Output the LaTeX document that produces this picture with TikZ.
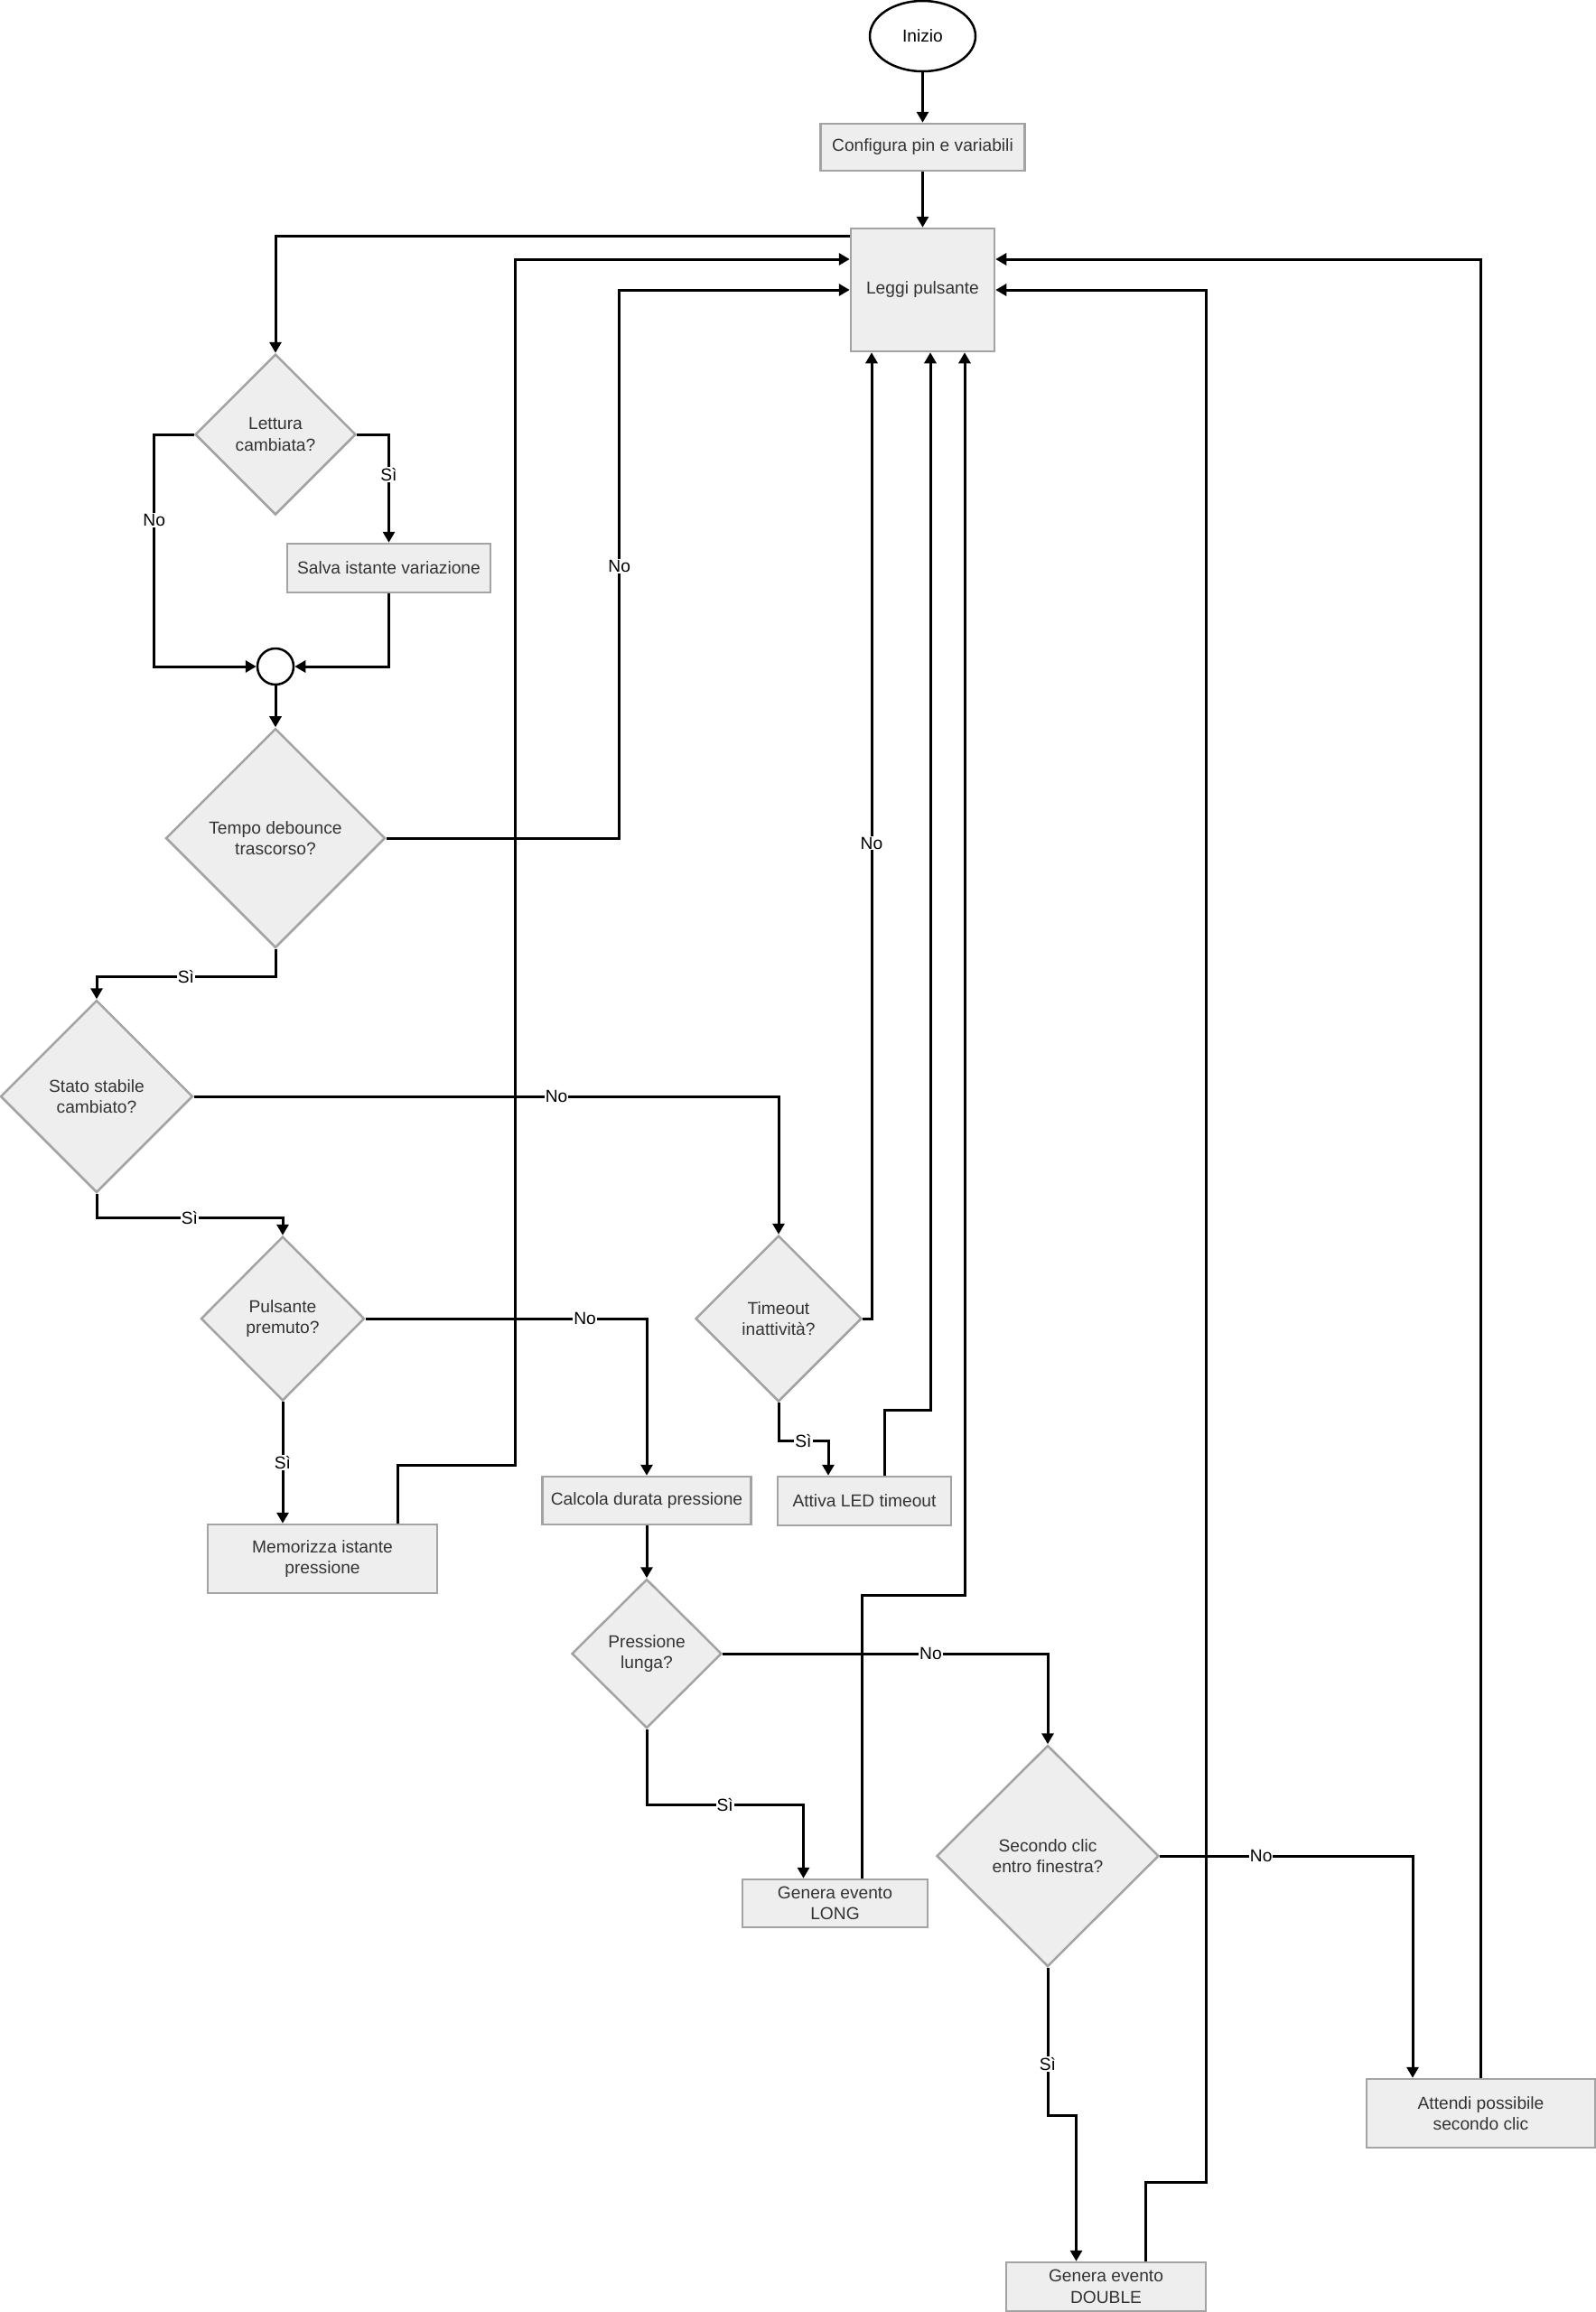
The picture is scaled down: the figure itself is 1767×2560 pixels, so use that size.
\documentclass[tikz,border=0pt]{standalone}
\usepackage{fontspec}
\setmainfont{Liberation Sans}
\usetikzlibrary{shapes.geometric,arrows.meta}
\definecolor{nodefill}{HTML}{EEEEEE}
\definecolor{nodeline}{HTML}{A3A3A3}
\definecolor{nodetext}{HTML}{333333}
\begin{document}
\begin{tikzpicture}[x=1pt,y=-1pt,
		font=\fontsize{19.2}{23.5}\selectfont,
		proc/.style={draw=nodeline, fill=nodefill, text=nodetext, line width=2.5pt, inner sep=0pt, align=center},
		dec/.style={diamond, draw=nodeline, fill=nodefill, text=nodetext, line width=2.5pt, inner sep=1pt, align=center},
		lab/.style={fill=white, inner sep=1pt, text=black},
		flow/.style={line width=3pt, -{Triangle[length=12pt,width=13pt]}}]
		\useasboundingbox (0,0) rectangle (1767,2560);
		\node[draw, ellipse, line width=2.5pt, minimum width=117pt, minimum height=78pt] (ini) at (1021.5,40) {Inizio};
		\node[proc, minimum width=226pt, minimum height=52pt] (conf) at (1021.5,163) {Configura pin e variabili};
		\node[proc, minimum width=159pt, minimum height=136pt] (leggi) at (1021.5,321) {Leggi pulsante};
		\node[dec, minimum width=178pt, minimum height=178pt] (lett) at (305,481) {Lettura\\cambiata?};
		\node[proc, minimum width=225pt, minimum height=54pt] (salva) at (430.5,629) {Salva istante variazione};
		\node[draw, circle, line width=2.5pt, minimum size=40pt, inner sep=0pt] (junc) at (305,738) {};
		\node[dec, minimum width=243pt, minimum height=243pt] (tempo) at (305,928) {Tempo debounce\\trascorso?};
		\node[dec, minimum width=213pt, minimum height=213pt] (stato) at (107,1214) {Stato stabile\\cambiato?};
		\node[dec, minimum width=181pt, minimum height=182pt] (prem) at (313,1460) {Pulsante\\premuto?};
		\node[proc, minimum width=254pt, minimum height=76pt] (memo) at (357,1726) {Memorizza istante\\pressione};
		\node[proc, minimum width=231pt, minimum height=53pt] (calc) at (716,1661.5) {Calcola durata pressione};
		\node[dec, minimum width=184pt, minimum height=184pt] (tout) at (862,1460) {Timeout\\inattività?};
		\node[proc, minimum width=192pt, minimum height=54pt] (attiva) at (957,1662) {Attiva LED timeout};
		\node[dec, minimum width=166pt, minimum height=165pt] (lunga) at (716,1831) {Pressione\\lunga?};
		\node[proc, minimum width=205pt, minimum height=53pt] (long) at (924.5,2107.5) {Genera evento\\LONG};
		\node[dec, minimum width=246pt, minimum height=245pt] (sec) at (1160,2055) {Secondo clic\\entro finestra?};
		\node[proc, minimum width=253pt, minimum height=76pt] (attendi) at (1639.5,2340) {Attendi possibile\\secondo clic};
		\node[proc, minimum width=221pt, minimum height=54pt] (dbl) at (1224.5,2532) {Genera evento\\DOUBLE};
		\draw[flow] (ini) -- (conf);
		\draw[flow] (conf) -- (leggi);
		\draw[flow] ([yshift=-10pt]leggi.north west) -| (lett.north);
		\draw[flow] (lett.west) -- ++(-44,0) |- node[lab,pos=0.185]{No} (junc.west);
		\draw[flow] (lett.east) -| node[lab,pos=0.686]{Sì} (salva.north);
		\draw[flow] (salva.south) |- (junc.east);
		\draw[flow] (junc) -- (tempo);
		\draw[flow] (tempo.east) -- ++(258,0) |- node[lab,pos=0.248]{No} (leggi.west);
		\draw[flow] (tempo.south) -- ++(0,31) -| node[lab,pos=0.25]{Sì} (stato.north);
		\draw[flow] (stato.east) -| node[lab,pos=0.31]{No} (tout.north);
		\draw[flow] (stato.south) -- ++(0,27) -| node[lab,pos=0.25]{Sì} (prem.north);
		\draw[flow] (prem.east) -| node[lab,pos=0.39]{No} (calc.north);
		\draw[flow] (prem.south) -- node[lab]{Sì} (prem.south |- memo.north);
		\draw[flow] ([xshift=83pt]memo.north) -- ++(0,-64) -- ++(130,0) |- ([yshift=34pt]leggi.west);
		\draw[flow] (calc) -- (lunga);
		\draw[flow] (tout.east) -| node[lab,pos=0.746]{No} ([xshift=-56.5pt]leggi.south);
		\draw[flow] (tout.south) -- ++(0,42) -| node[lab,pos=0.25]{Sì} ([xshift=-40pt]attiva.north);
		\draw[flow] ([xshift=22pt]attiva.north) -- ++(0,-72) -| ([xshift=8.5pt]leggi.south);
		\draw[flow] (lunga.east) -| node[lab,pos=0.32]{No} (sec.north);
		\draw[flow] (lunga.south) -- ++(0,84) -| node[lab,pos=0.25]{Sì} ([xshift=-35pt]long.north);
		\draw[flow] ([xshift=30pt]long.north) -- ++(0,-313) -| ([xshift=46.5pt]leggi.south);
		\draw[flow] (sec.east) -| node[lab,pos=0.2]{No} ([xshift=-75.5pt]attendi.north);
		\draw[flow] (sec.south) -- node[lab,pos=0.65]{Sì} ++(0,164) -| ([xshift=-33pt]dbl.north);
		\draw[flow] ([xshift=44pt]dbl.north) -- ++(0,-87) -- ++(67,0) |- (leggi.east);
		\draw[flow] (attendi.north) |- ([yshift=34pt]leggi.east);
\end{tikzpicture}
\end{document}
